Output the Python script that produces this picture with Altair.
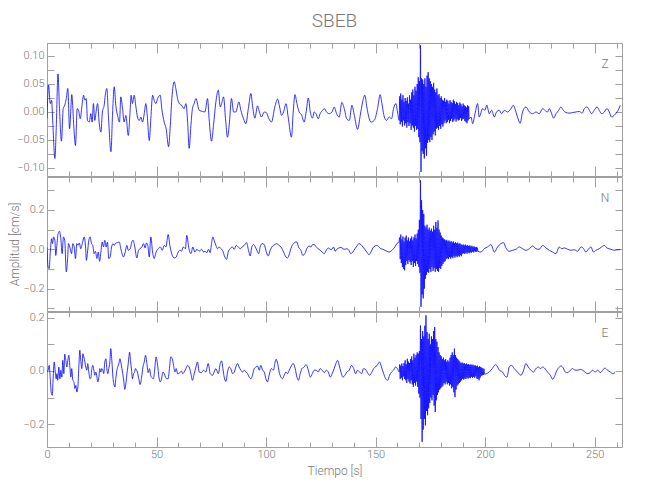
import altair as alt
import pandas as pd

FONT = "Roboto, 'Open Sans', sans-serif"
TXT = "#787878"
AX = "#a0a0a0"
BLUE = "#0000ff"

T_MAX = 262.5
W = 575

X_MAJOR = [0, 50, 100, 150, 200, 250]
X_MINOR = [0, 10, 20, 30, 40, 50, 60, 70, 80, 90, 100, 110, 120, 130, 140, 150,
           160, 170, 180, 190, 200, 210, 220, 230, 240, 250, 260]

Z_TICKS = [-0.10, -0.075, -0.05, -0.025, 0.0, 0.025, 0.05, 0.075, 0.10]
Z_LABELS = [-0.10, -0.05, 0.0, 0.05, 0.10]
N_TICKS = [-0.3, -0.2, -0.1, 0.0, 0.1, 0.2, 0.3]
N_LABELS = [-0.2, 0.0, 0.2]
E_TICKS = [-0.2, -0.1, 0.0, 0.1, 0.2]
E_LABELS = [-0.2, 0.0, 0.2]

# ---------------- Z component ----------------
Z_T1 = [0.0, 0.7, 1.5, 2.1, 2.7, 3.6, 4.3, 5.0, 5.7, 6.6, 7.4, 8.1, 8.8, 9.5, 10.3, 10.9, 11.3, 12.3, 13.0, 13.8,
        14.4, 15.2, 15.9, 16.7, 17.3, 17.9, 18.5, 19.3, 20.0, 20.6, 21.2, 21.8, 22.6, 23.1, 23.8, 24.6, 25.3, 26.1,
        26.6, 27.3, 28.1, 29.2, 29.9, 30.7, 31.4, 32.2, 33.1, 33.7, 34.5, 35.2, 36.0, 37.1, 38.0, 38.4, 39.0, 39.8,
        40.6, 41.3, 42.1, 42.9, 43.6, 44.4, 45.1, 45.7, 46.7, 47.4, 48.2, 48.9, 49.7, 50.5, 51.7, 52.4, 53.5, 54.4,
        55.5, 56.2, 57.0, 58.1, 58.8, 59.6, 60.4, 61.4, 62.6, 63.4, 64.2, 64.9, 65.7, 66.4, 67.2, 68.0,
        69.5, 71.0, 72.1, 73.3, 74.0, 75.1, 76.0, 77.1, 78.2, 79.1, 79.7, 80.6, 81.5, 82.4, 83.3, 84.2, 85.2, 86.2,
        87.6, 88.5, 89.7, 90.8, 91.9, 93.1, 93.8, 94.9, 96.1, 97.0, 97.9, 99.2, 100.1, 101.3, 102.5, 104.0, 105.3,
        106.2, 107.1, 108.0, 109.1, 110.1, 111.6, 112.4, 113.2, 114.1, 115.1, 116.2, 117.4, 118.3, 119.3, 120.2,
        121.2, 122.0, 122.8, 123.8, 124.7, 125.8, 126.6, 127.6, 128.8, 130.1, 131.1, 132.2, 133.4, 134.6, 135.7,
        136.8, 138.0, 139.2, 140.3, 141.8, 143.0, 144.1, 145.1, 146.0, 147.1, 147.9, 149.4, 150.9, 152.1, 152.9,
        154.0, 155.0, 156.2, 157.3, 158.2, 159.3, 160.0, 160.8]
Z_V1 = [-0.011, 0.048, 0.015, 0.021, -0.024, -0.083, -0.018, 0.068, 0.006, -0.052, 0.006, 0.012, 0.024, 0.042,
        -0.030, 0.006, 0.031, -0.030, -0.060, 0.006, 0.003, -0.012, 0.009, 0.030, 0.021, 0.024, -0.015, -0.018,
        -0.003, -0.018, 0.015, -0.015, 0.006, 0.015, -0.018, -0.036, 0.000, 0.012, 0.030, 0.042, -0.012, -0.071,
        -0.006, 0.045, 0.012, -0.006, -0.018, 0.027, 0.006, -0.018, -0.006, -0.042, 0.006, 0.030, 0.015, 0.030,
        0.009, -0.009, -0.015, -0.009, -0.018, -0.003, 0.015, -0.003, -0.051, -0.012, 0.030, 0.021, 0.015, 0.024,
        0.030, 0.006, -0.018, -0.030, -0.062, -0.030, 0.024, 0.054, 0.042, 0.024, 0.015, 0.012, 0.006, 0.015,
        -0.018, -0.065, -0.024, 0.006, 0.015, 0.024,
        0.003, 0.001, 0.000, 0.024, -0.012, -0.052, -0.024, 0.018, 0.039, 0.009, 0.015, 0.027, -0.012, -0.045,
        -0.018, 0.024, 0.000, 0.000, 0.018, 0.003, -0.012, -0.021, 0.006, 0.033, 0.012, -0.011, 0.011, 0.000,
        -0.009, 0.000, -0.001, -0.012, -0.018, 0.009, 0.023, 0.009, -0.006, 0.000, 0.015, -0.009, -0.045, 0.000,
        0.031, 0.015, 0.000, -0.005, -0.018, 0.000, 0.025, 0.000, -0.011, 0.000, -0.003, -0.012, -0.003, 0.003,
        0.006, 0.000, -0.003, 0.000, 0.009, -0.003, -0.009, 0.017, 0.006, -0.012, -0.015, 0.012, -0.006, -0.031,
        -0.006, 0.018, 0.030, 0.009, -0.012, -0.018, -0.015, 0.006, 0.031, 0.015, -0.009, -0.015, -0.009, -0.012,
        0.006, 0.015, 0.000, -0.015]
Z_START = 161.0
Z_UP = [0.028, 0.033, 0.022, 0.030, 0.018, 0.025, 0.020, 0.026, 0.015, 0.030,
        0.022, 0.035, 0.040, 0.030, 0.045, 0.038, 0.050, 0.062, 0.055, 0.119,
        0.060, 0.058, 0.050, 0.060, 0.045, 0.065, 0.071, 0.060, 0.055, 0.050,
        0.045, 0.052, 0.040, 0.035, 0.042, 0.030, 0.032, 0.025, 0.028, 0.022,
        0.020, 0.025, 0.018, 0.022, 0.020, 0.015, 0.021, 0.018, 0.016, 0.022,
        0.019, 0.014, 0.018, 0.016, 0.012, 0.017, 0.014, 0.010, 0.015, 0.012,
        0.010, 0.008, 0.012, 0.010]
Z_LO = [-0.022, -0.018, -0.026, -0.015, -0.024, -0.020, -0.028, -0.018, -0.025, -0.020,
        -0.032, -0.024, -0.028, -0.035, -0.025, -0.032, -0.030, -0.045, -0.054, -0.107,
        -0.070, -0.075, -0.083, -0.065, -0.078, -0.055, -0.050, -0.054, -0.045, -0.050,
        -0.040, -0.035, -0.042, -0.030, -0.028, -0.032, -0.025, -0.030, -0.022, -0.026,
        -0.020, -0.015, -0.020, -0.018, -0.014, -0.020, -0.016, -0.012, -0.018, -0.015,
        -0.012, -0.017, -0.013, -0.015, -0.014, -0.011, -0.016, -0.013, -0.012, -0.016,
        -0.018, -0.020, -0.015, -0.012]
Z_T2 = [193.6, 194.3, 195.4, 196.6, 197.3, 198.9, 199.9, 200.8, 201.9, 203.0, 204.2, 205.2, 206.5, 207.5, 208.8,
        210.3, 211.8, 212.9, 213.6, 214.8, 216.0, 217.1, 218.6, 220.2, 221.7, 223.2, 224.7, 226.3, 227.3, 228.5,
        229.3, 230.1, 231.3, 232.4, 233.6, 234.6, 235.7, 236.9, 238.5, 240.0, 241.5, 243.0, 244.3, 245.3, 246.5,
        247.6, 248.6, 249.8, 251.1, 252.1, 253.2, 254.4, 255.6, 256.7, 257.7, 258.9, 260.2, 261.1, 261.7]
Z_V2 = [-0.009, -0.021, -0.003, 0.015, -0.009, 0.006, 0.003, 0.012, -0.003, 0.003, -0.009, 0.000, 0.003, -0.003,
        0.003, 0.000, 0.006, 0.012, 0.006, -0.009, -0.020, 0.000, 0.009, 0.000, -0.003, 0.000, -0.003, 0.006, 0.003,
        0.000, 0.006, 0.000, -0.011, -0.003, 0.003, 0.009, 0.003, -0.001, -0.002, -0.001, 0.000, 0.001, -0.002,
        0.006, 0.009, 0.003, -0.003, 0.003, 0.009, 0.003, -0.003, 0.000, 0.006, 0.000, -0.009, -0.006, 0.000,
        0.006, 0.012]

# ---------------- N component ----------------
N_T1 = [0.0, 0.5, 1.0, 1.5, 2.1, 2.5, 3.0, 3.6, 4.0, 4.5, 5.1, 5.7, 6.3, 6.9, 7.5, 8.1, 8.8, 9.4, 9.8, 10.6,
        11.2, 11.8, 12.4, 13.0, 13.6, 14.2, 14.8, 15.4, 16.2, 17.0, 17.6, 18.0, 18.5, 19.1, 19.7, 20.3, 20.9, 21.5,
        22.1, 22.8, 23.4, 24.0, 24.6, 25.2, 25.8, 26.4, 27.0, 27.6, 28.2, 28.8, 29.5, 30.1, 30.7, 31.4, 32.2, 33.0,
        33.7, 34.9, 35.7, 36.5, 37.1, 38.0, 38.7, 39.3, 40.1, 41.0, 41.8, 42.5, 43.3, 44.1, 44.8, 45.4, 46.0, 46.7,
        47.4, 48.2, 48.9, 49.8, 50.8, 51.7, 52.6, 53.5, 54.3, 55.3, 56.2, 57.2, 58.1, 59.0, 59.9, 60.8, 61.4, 62.2,
        63.2, 63.8, 64.8, 65.7, 66.6, 67.5, 68.4,
        69.5, 70.5, 71.5, 72.1, 73.0, 73.7, 74.5, 75.1, 75.7, 76.3, 77.1, 77.9, 78.6, 79.4, 80.1, 81.2, 82.0, 82.7,
        83.6, 84.6, 85.5, 86.4, 87.3, 88.2, 89.1, 90.0, 91.1, 92.0, 92.8, 93.5, 94.3, 95.1, 95.8, 96.6, 97.3, 98.2,
        99.2, 99.9, 101.0, 101.9, 103.0, 104.0, 104.9, 105.9, 106.8, 108.0, 109.1, 109.8, 110.7, 111.6, 112.6,
        113.3, 114.1, 114.8, 115.9, 116.8, 117.7, 118.6, 119.6, 120.5, 121.2, 122.0, 122.9, 123.8, 124.7, 125.6,
        126.6, 127.5, 128.4, 129.3, 130.1, 130.8, 131.6, 132.3, 133.3, 134.2, 135.1, 136.0, 136.9, 137.8, 138.7,
        139.6, 140.6, 141.5, 142.4, 143.3, 144.2, 145.1, 146.0, 147.0, 147.9, 148.8, 149.7, 150.6, 151.5, 152.4,
        153.3, 154.3, 155.2, 156.1, 157.0, 157.9, 158.8, 159.7, 160.7]
N_V1 = [0.010, -0.090, -0.098, -0.014, 0.054, 0.029, 0.063, 0.046, -0.031, 0.020, 0.080, 0.092, 0.054, -0.022,
        0.063, 0.046, -0.115, -0.047, 0.029, 0.003, -0.022, 0.029, 0.012, -0.047, 0.029, 0.020, 0.032, 0.003,
        0.034, 0.063, 0.012, -0.056, -0.014, 0.046, 0.063, 0.029, 0.020, -0.022, -0.010, -0.047, -0.014, -0.061,
        -0.014, 0.037, 0.012, 0.046, 0.012, 0.037, -0.047, -0.039, 0.012, 0.029, 0.020, 0.032, 0.034, 0.037,
        0.003, -0.039, -0.014, 0.020, -0.005, 0.003, 0.037, 0.046, 0.012, -0.044, -0.005, 0.003, 0.012, 0.029,
        0.007, 0.032, 0.020, -0.039, 0.063, -0.014, -0.047, -0.014, 0.003, 0.012, -0.005, 0.020, 0.012, 0.075,
        0.012, -0.031, -0.044, -0.039, -0.014, -0.005, -0.010, 0.012, 0.003, 0.071, 0.003, -0.022, 0.012, -0.014,
        0.000,
        -0.010, 0.000, -0.014, -0.010, -0.017, 0.000, -0.017, 0.029, 0.063, 0.046, 0.020, 0.003, 0.012, 0.003,
        -0.005, -0.039, -0.051, -0.014, 0.003, 0.012, 0.000, 0.020, 0.012, 0.003, 0.012, 0.020, 0.034, -0.005,
        -0.034, 0.012, 0.024, 0.012, -0.005, -0.022, 0.012, 0.029, 0.024, -0.005, -0.034, -0.005, 0.017, 0.024,
        0.029, 0.020, 0.012, -0.014, -0.039, -0.044, -0.022, 0.012, 0.029, 0.037, 0.037, 0.012, -0.005, -0.031,
        -0.022, 0.003, 0.017, 0.012, 0.024, 0.024, 0.012, 0.003, -0.005, -0.014, -0.022, -0.005, 0.007, 0.000,
        0.000, 0.012, -0.010, 0.000, 0.007, 0.010, 0.003, 0.000, 0.003, -0.005, -0.022, -0.014, 0.003, 0.017,
        0.029, 0.024, 0.012, 0.000, -0.014, -0.027, -0.014, 0.007, 0.017, 0.020, 0.012, 0.003, 0.000, -0.005,
        -0.010, -0.014, -0.010, 0.000, 0.012, 0.029, 0.037]
N_START = 161.0
N_UP = [0.060, 0.075, 0.050, 0.065, 0.040, 0.060, 0.070, 0.045, 0.060, 0.040,
        0.055, 0.065, 0.045, 0.060, 0.075, 0.055, 0.080, 0.100, 0.150, 0.351,
        0.250, 0.200, 0.180, 0.120, 0.110, 0.125, 0.100, 0.110, 0.095, 0.105,
        0.090, 0.120, 0.100, 0.139, 0.110, 0.147, 0.100, 0.085, 0.070, 0.060,
        0.055, 0.050, 0.045, 0.048, 0.040, 0.045, 0.038, 0.042, 0.035, 0.040,
        0.032, 0.036, 0.030, 0.034, 0.028, 0.030, 0.025, 0.022, 0.025, 0.020,
        0.024, 0.018, 0.022, 0.017, 0.020, 0.015, 0.018, 0.012, 0.015, 0.010,
        0.012, 0.008]
N_LO = [-0.050, -0.070, -0.090, -0.100, -0.107, -0.080, -0.060, -0.075, -0.055, -0.065,
        -0.080, -0.060, -0.090, -0.070, -0.085, -0.060, -0.075, -0.090, -0.120, -0.293,
        -0.230, -0.250, -0.200, -0.150, -0.130, -0.115, -0.120, -0.100, -0.115, -0.090,
        -0.110, -0.095, -0.115, -0.100, -0.110, -0.115, -0.095, -0.100, -0.085, -0.075,
        -0.065, -0.060, -0.050, -0.045, -0.050, -0.040, -0.047, -0.040, -0.045, -0.035,
        -0.042, -0.035, -0.040, -0.032, -0.038, -0.030, -0.035, -0.022, -0.020, -0.024,
        -0.018, -0.022, -0.016, -0.020, -0.015, -0.018, -0.012, -0.016, -0.010, -0.014,
        -0.012, -0.010]
N_T2 = [198.1, 199.6, 201.1, 202.7, 204.2, 205.7, 207.2, 208.4, 209.5, 211.0, 212.6, 214.1, 215.6, 217.1, 218.6,
        220.2, 221.7, 223.2, 224.7, 226.3, 227.8, 229.3, 230.8, 232.3, 233.9, 234.9, 236.2, 237.7, 239.2, 240.7,
        242.2, 243.8, 245.0, 246.0, 247.1, 248.3, 249.5, 250.6, 252.1, 253.2, 254.4, 255.6, 257.5, 259.0, 260.5,
        261.7]
N_V2 = [-0.014, 0.003, 0.012, 0.024, -0.014, 0.012, 0.029, 0.034, 0.007, -0.010, -0.005, 0.000, 0.012, 0.003,
        -0.005, 0.003, 0.017, 0.003, 0.000, 0.020, 0.007, -0.005, -0.014, -0.022, 0.012, 0.003, 0.007, 0.000,
        -0.005, -0.002, -0.010, 0.012, 0.003, -0.014, 0.000, 0.012, -0.014, -0.005, 0.003, 0.012, 0.020, 0.007,
        0.000, -0.005, -0.002, -0.002]

# ---------------- E component ----------------
E_T1 = [0.0, 0.5, 1.0, 1.5, 1.9, 2.4, 2.8, 3.3, 3.7, 4.2, 4.5, 4.9, 5.4, 5.9, 6.3, 6.8, 7.2, 7.7, 8.1, 8.6,
        9.1, 9.5, 10.0, 10.4, 10.9, 11.3, 11.8, 12.3, 12.7, 13.2, 13.6, 14.1, 14.5, 15.0, 15.4, 15.9, 16.4, 16.8,
        17.3, 17.7, 18.2, 18.6, 19.1, 19.6, 20.0, 20.5, 20.9, 21.4, 21.8, 22.3, 22.8, 23.2, 23.7, 24.1, 24.6, 25.0,
        25.5, 25.9, 26.4, 26.9, 27.3, 27.8, 28.2, 28.7, 29.1, 29.6, 30.1, 30.5, 31.0, 31.4, 31.9, 32.3, 32.8, 33.3,
        33.7, 34.2, 34.6, 35.1, 35.5, 36.0, 36.5, 36.9, 37.4, 37.7, 38.1, 38.6, 39.0, 39.5, 40.0, 40.4, 40.9, 41.3,
        41.9, 42.5, 43.2, 43.8, 44.4, 45.0, 45.6, 46.2, 46.8, 47.4, 48.0, 48.6, 49.2, 49.8, 50.5, 51.1, 51.7, 52.3,
        52.9, 53.5, 54.1, 54.7, 55.3, 55.9, 56.5, 57.2, 57.8, 58.4, 59.0, 59.6, 60.2, 60.8, 61.4, 62.0, 62.6, 63.4,
        64.2, 64.9, 65.7, 66.4, 67.2, 68.0,
        68.7, 69.5, 70.5, 71.5, 72.5, 73.6, 74.5, 75.6, 76.3, 77.1, 78.2, 79.1, 79.7, 80.3, 80.9, 81.7, 82.4, 83.2,
        83.9, 84.7, 85.5, 86.2, 87.0, 87.7, 88.5, 89.3, 90.0, 90.8, 91.6, 92.3, 93.1, 93.8, 94.6, 95.4, 96.1, 96.9,
        97.6, 98.4, 99.2, 99.9, 100.7, 101.4, 102.5, 103.4, 104.0, 104.6, 105.3, 106.0, 106.8, 107.5, 108.3, 109.1,
        109.8, 110.6, 111.3, 112.4, 113.3, 114.1, 114.8, 115.6, 116.4, 117.4, 118.3, 119.3, 120.2, 121.1, 122.0,
        122.9, 123.8, 124.7, 125.6, 126.6, 127.5, 128.4, 129.3, 130.2, 131.1, 131.9, 132.6, 133.4, 134.2, 135.1,
        136.0, 136.9, 138.0, 139.0, 140.0, 140.9, 141.8, 142.7, 143.6, 144.5, 145.4, 146.3, 147.3, 148.2, 149.1,
        150.0, 150.9, 151.8, 152.7, 153.7, 154.6, 155.5, 156.4, 157.3, 158.2, 159.1, 160.0, 160.8]
E_V1 = [-0.004, 0.003, 0.021, -0.029, -0.079, -0.091, -0.029, 0.034, 0.003, -0.029,
        -0.010, -0.035, 0.015, -0.029, 0.003, -0.023, 0.040, -0.010, 0.063, 0.040,
        0.015, 0.040, 0.059, 0.021, -0.023, 0.009, -0.035, -0.041, -0.066, -0.054,
        -0.079, -0.060, 0.009, 0.078, 0.040, 0.009, 0.065, 0.053, 0.034, 0.015,
        0.003, 0.028, -0.004, -0.029, -0.026, 0.009, 0.021, 0.003, -0.016, -0.004,
        -0.023, -0.041, -0.023, 0.009, -0.004, 0.009, 0.003, -0.010, 0.034, 0.046,
        0.009, -0.010, 0.009, 0.034, 0.084, 0.040, -0.023, -0.048, -0.060, -0.029,
        0.003, 0.015, 0.028, 0.046, 0.034, 0.009, -0.010, -0.041, -0.069, -0.048,
        -0.010, 0.015, 0.053, 0.071, 0.040, 0.003, -0.029, -0.010, -0.004, 0.009,
        0.003, -0.004, -0.029, -0.051, -0.023, 0.015, 0.034, 0.059, 0.028, -0.006,
        0.009, -0.019, -0.026, -0.029, 0.009, 0.053, 0.021, -0.023, -0.041, -0.029,
        -0.004, -0.010, -0.023, -0.029, -0.029, 0.009, 0.053, 0.046, 0.021, -0.004,
        0.009, -0.010, -0.010, -0.004, -0.001, -0.010, -0.004, 0.009, 0.021, 0.015,
        -0.010, -0.035, -0.010, 0.015,
        0.034, -0.004, -0.006, 0.003, -0.004, 0.028, -0.010, -0.016, -0.004, 0.009,
        -0.010, 0.028, 0.038, 0.009, -0.023, -0.039, -0.004, 0.015, 0.009, -0.010,
        -0.004, 0.015, 0.028, 0.015, 0.003, -0.004, 0.003, -0.004, -0.010, -0.023,
        -0.029, -0.016, 0.009, 0.015, 0.019, 0.003, 0.021, 0.003, -0.004, -0.029,
        -0.041, -0.016, 0.009, 0.003, 0.028, 0.044, 0.028, -0.004, -0.023, -0.029,
        -0.016, -0.004, -0.010, 0.003, 0.015, 0.028, 0.009, -0.023, -0.035, -0.010,
        0.009, 0.015, 0.024, 0.003, -0.023, -0.010, 0.003, 0.003, -0.004, 0.009,
        0.003, -0.006, 0.003, -0.004, -0.023, -0.010, 0.009, 0.028, 0.040, 0.021,
        -0.004, -0.023, -0.016, -0.004, 0.003, 0.021, 0.009, -0.010, 0.003, -0.004,
        -0.010, 0.009, 0.006, -0.006, -0.016, -0.006, 0.009, 0.015, 0.024, 0.034,
        0.015, -0.010, -0.029, -0.035, -0.016, -0.004, 0.003, 0.015, 0.009, -0.004]
E_START = 161.0
E_UP = [0.025, 0.020, 0.028, 0.018, 0.030, 0.040, 0.025, 0.046, 0.035, 0.030,
        0.045, 0.055, 0.040, 0.065, 0.050, 0.060, 0.070, 0.065, 0.075, 0.171,
        0.120, 0.150, 0.130, 0.170, 0.209, 0.146, 0.120, 0.140, 0.100, 0.130,
        0.120, 0.150, 0.165, 0.120, 0.110, 0.090, 0.070, 0.060, 0.055, 0.045,
        0.050, 0.040, 0.045, 0.035, 0.040, 0.035, 0.050, 0.060, 0.070, 0.060,
        0.084, 0.060, 0.050, 0.045, 0.040, 0.035, 0.030, 0.032, 0.028, 0.030,
        0.025, 0.028, 0.024, 0.026, 0.022, 0.025, 0.022, 0.024, 0.020, 0.022,
        0.018, 0.020, 0.015, 0.018, 0.015, 0.012, 0.010, 0.008]
E_LO = [-0.030, -0.025, -0.035, -0.020, -0.030, -0.035, -0.045, -0.030, -0.040, -0.047,
        -0.035, -0.050, -0.060, -0.045, -0.055, -0.040, -0.060, -0.085, -0.100, -0.180,
        -0.266, -0.220, -0.180, -0.204, -0.150, -0.166, -0.140, -0.120, -0.100, -0.110,
        -0.090, -0.130, -0.154, -0.110, -0.090, -0.080, -0.070, -0.065, -0.060, -0.055,
        -0.045, -0.050, -0.040, -0.050, -0.045, -0.055, -0.050, -0.065, -0.060, -0.080,
        -0.098, -0.070, -0.055, -0.050, -0.045, -0.040, -0.035, -0.030, -0.032, -0.028,
        -0.030, -0.025, -0.028, -0.025, -0.027, -0.022, -0.026, -0.022, -0.025, -0.020,
        -0.028, -0.030, -0.035, -0.025, -0.018, -0.016, -0.015, -0.012]
E_T2 = [202.7, 204.9, 206.5, 208.0, 208.8, 210.0, 211.0, 212.1, 213.3, 214.8, 216.4, 217.6, 218.6, 219.7, 220.9,
        222.1, 223.2, 224.3, 225.2, 226.3, 227.3, 228.5, 229.8, 230.8, 231.9, 232.8, 233.9, 234.6, 235.7, 236.6,
        237.7, 238.9, 240.0, 241.0, 242.2, 243.5, 244.5, 245.6, 246.8, 248.0, 249.1, 250.2, 251.4, 252.6, 253.7,
        254.7, 255.9, 257.2, 258.2, 259.3]
E_V2 = [0.003, 0.024, 0.003, -0.004, -0.016, -0.023, 0.015, 0.021, 0.009, -0.004, -0.016, 0.003, 0.028, 0.015,
        0.003, -0.004, 0.009, 0.015, 0.009, 0.015, 0.009, -0.004, -0.016, -0.031, -0.016, 0.003, 0.015, 0.019,
        0.011, -0.004, -0.006, 0.003, 0.009, 0.003, 0.003, 0.006, 0.003, -0.004, -0.010, -0.006, 0.003, -0.004,
        0.003, -0.006, 0.003, 0.011, 0.003, -0.004, -0.010, -0.006]


def trace(t1, v1, start, up, lo, t2, v2):
    rows = list(zip(t1, v1))
    for i, (u, l) in enumerate(zip(up, lo)):
        t = start + 0.5 * i
        rows.append((t, u))
        rows.append((t + 0.25, l))
    rows += list(zip(t2, v2))
    return pd.DataFrame(rows, columns=["t", "v"]).sort_values("t")


def panel(df, ydom, yticks, ylabels, yfmt, letter, height, ytitle=None, top_title=None, last=False):
    xs = alt.Scale(domain=[0, T_MAX], nice=False, zero=False)
    ys = alt.Scale(domain=ydom, nice=False, zero=False)
    dummy = pd.DataFrame({"t": [0.0], "v": [0.0]})

    line = alt.Chart(df).mark_line(color=BLUE, strokeWidth=0.8, clip=True,
                                   interpolate="monotone").encode(
        x=alt.X("t:Q", scale=xs, title="Tiempo [s]" if last else None,
                axis=alt.Axis(orient="bottom", values=X_MAJOR, tickSize=10, offset=-10,
                              labels=last, format="d", labelPadding=1, titlePadding=6,
                              labelFlush=False)),
        y=alt.Y("v:Q", scale=ys, title=ytitle,
                axis=alt.Axis(orient="left", values=ylabels, tickSize=7, offset=-7,
                              format=yfmt, labelPadding=3, titlePadding=1, labelFlush=False)),
    )
    l2 = alt.Chart(dummy).mark_point(opacity=0).encode(
        x=alt.X("t:Q", scale=xs, title=None,
                axis=alt.Axis(orient="top", values=X_MAJOR, tickSize=10, offset=-10, labels=False)),
        y=alt.Y("v:Q", scale=ys, title=None,
                axis=alt.Axis(orient="right", values=yticks, tickSize=7, offset=-7, labels=False)),
    )
    l3 = alt.Chart(dummy).mark_point(opacity=0).encode(
        x=alt.X("t:Q", scale=xs, title=None,
                axis=alt.Axis(orient="bottom", values=X_MINOR, tickSize=5, offset=-5, labels=False)),
        y=alt.Y("v:Q", scale=ys, title=None,
                axis=alt.Axis(orient="left", values=yticks, tickSize=7, offset=-7, labels=False)),
    )
    l4 = alt.Chart(dummy).mark_point(opacity=0).encode(
        x=alt.X("t:Q", scale=xs, title=None,
                axis=alt.Axis(orient="top", values=X_MINOR, tickSize=5, offset=-5, labels=False)),
        y=alt.Y("v:Q", scale=ys, axis=None),
    )
    lab = alt.Chart(dummy).mark_text(text=letter, font=FONT, fontSize=12, fontWeight=300, color=TXT,
                                     align="center", baseline="middle").encode(
        x=alt.value(558), y=alt.value(21)
    )
    ch = alt.layer(line, l2, l3, l4, lab).resolve_axis(x="independent", y="independent")
    props = dict(width=W, height=height)
    if top_title:
        props["title"] = alt.TitleParams(top_title, anchor="middle", offset=12)
    return ch.properties(**props)


z_df = trace(Z_T1, Z_V1, Z_START, Z_UP, Z_LO, Z_T2, Z_V2)
n_df = trace(N_T1, N_V1, N_START, N_UP, N_LO, N_T2, N_V2)
e_df = trace(E_T1, E_V1, E_START, E_UP, E_LO, E_T2, E_V2)

pz = panel(z_df, [-0.1143, 0.1232], Z_TICKS, Z_LABELS, ".2f", "Z", 133, top_title="SBEB")
pn = panel(n_df, [-0.3138, 0.3678], N_TICKS, N_LABELS, ".1f", "N", 134, ytitle="Amplitud [cm/s]")
pe = panel(e_df, [-0.2852, 0.2214], E_TICKS, E_LABELS, ".1f", "E", 135, last=True)

chart = alt.vconcat(pz, pn, pe, spacing=1, bounds="flush").properties(
    padding={"left": 0, "top": 3, "right": 5, "bottom": 5}
).configure_view(
    stroke=AX, strokeWidth=1
).configure_axis(
    domain=False, grid=False, tickColor=AX, tickWidth=1,
    labelColor=TXT, labelFont=FONT, labelFontSize=11, labelFontWeight=300,
    titleFont=FONT, titleFontSize=12, titleFontWeight=300, titleColor=TXT
).configure_title(
    font=FONT, fontSize=19, color=TXT, fontWeight=300
)

chart.save("out.html", embed_options={"renderer": "svg", "actions": False})
